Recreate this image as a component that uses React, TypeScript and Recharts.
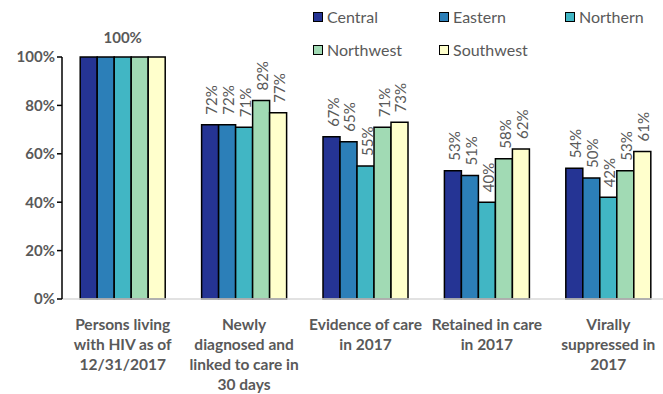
import React from "react";
import { BarChart, Bar, XAxis, YAxis, LabelList } from "recharts";

const categories: string[][] = [
  ["Persons living", "with HIV as of", "12/31/2017"],
  ["Newly", "diagnosed and", "linked to care in", "30 days"],
  ["Evidence of care", "in 2017"],
  ["Retained in care", "in 2017"],
  ["Virally", "suppressed in", "2017"],
];
const central = [100, 72, 67, 53, 54];
const eastern = [100, 72, 65, 51, 50];
const northern = [100, 71, 55, 40, 42];
const northwest = [100, 82, 71, 58, 53];
const southwest = [100, 77, 73, 62, 61];
const yTicks = [0, 20, 40, 60, 80, 100];

const series = [
  { key: "Central", values: central, color: "#253494" },
  { key: "Eastern", values: eastern, color: "#2c7fb8" },
  { key: "Northern", values: northern, color: "#41b6c4" },
  { key: "Northwest", values: northwest, color: "#a1dab4" },
  { key: "Southwest", values: southwest, color: "#ffffcc" },
];

const data = categories.map((c, i) => {
  const row: any = { name: c.join(" "), idx: i };
  series.forEach((s) => (row[s.key] = s.values[i]));
  return row;
});

const FONT = "Lato, sans-serif";
const GRAY = "#595959";

const XTick = (props: any) => {
  const { x, y, payload } = props;
  const lines = categories[payload.index] || [];
  return (
    <g>
      {lines.map((l, i) => (
        <text
          key={i}
          x={x}
          y={y + 23 + i * 20}
          textAnchor="middle"
          fill={GRAY}
          fontSize={15.5}
          fontWeight="bold"
          fontFamily={FONT}
        >
          {l}
        </text>
      ))}
    </g>
  );
};

const makeLabel = (showTop: boolean) => (props: any) => {
  const { x, y, width, value, index } = props;
  if (index === 0) {
    if (!showTop) return null;
    return (
      <text
        x={x + width / 2}
        y={y - 14}
        textAnchor="middle"
        fill={GRAY}
        fontSize={15}
        fontWeight="bold"
        fontFamily={FONT}
      >
        {value}%
      </text>
    );
  }
  const cx = x + width / 2 + 1;
  const cy = y - 10;
  return (
    <text
      x={cx}
      y={cy}
      transform={`rotate(-90 ${cx} ${cy})`}
      textAnchor="start"
      dominantBaseline="central"
      fill={GRAY}
      fontSize={15}
      fontFamily={FONT}
    >
      {value}%
    </text>
  );
};

const legendPos = [
  { left: 313, top: 7 },
  { left: 439, top: 7 },
  { left: 565, top: 7 },
  { left: 313, top: 40 },
  { left: 439, top: 40 },
];

export default function App() {
  return (
    <div style={{ position: "fixed", left: 0, top: 0, width: 663, height: 394, background: "#fff" }}>
      <BarChart
        width={663}
        height={394}
        data={data}
        margin={{ top: 57, right: -6, bottom: 0, left: 0 }}
        barCategoryGap="15%"
        barGap={0}
      >
        <XAxis
          dataKey="name"
          height={95}
          tick={<XTick />}
          tickLine={false}
          axisLine={{ stroke: "#d9d9d9", strokeWidth: 1.5 }}
          interval={0}
        />
        <YAxis
          width={62}
          domain={[0, 100]}
          ticks={yTicks}
          tickFormatter={(v: number) => `${v}%`}
          tick={{ fill: GRAY, fontSize: 15, fontWeight: "bold", fontFamily: FONT }}
          tickLine={{ stroke: "#000", strokeWidth: 1.5 }}
          tickSize={5}
          axisLine={{ stroke: "#000", strokeWidth: 1.5 }}
        />
        {series.map((s) => (
          <Bar
            key={s.key}
            dataKey={s.key}
            fill={s.color}
            stroke="#000"
            strokeWidth={1.5}
            isAnimationActive={false}
          >
            <LabelList dataKey={s.key} content={makeLabel(s.key === "Northern")} />
          </Bar>
        ))}
      </BarChart>
      {series.map((s, i) => (
        <div
          key={s.key}
          style={{
            position: "absolute",
            left: legendPos[i].left,
            top: legendPos[i].top,
            display: "flex",
            alignItems: "center",
            fontFamily: FONT,
            fontSize: 16,
            color: GRAY,
            whiteSpace: "nowrap",
          }}
        >
          <span
            style={{
              display: "inline-block",
              width: 8,
              height: 8,
              background: s.color,
              border: "1.5px solid #000",
              marginRight: 4,
            }}
          />
          <span>{s.key}</span>
        </div>
      ))}
    </div>
  );
}
